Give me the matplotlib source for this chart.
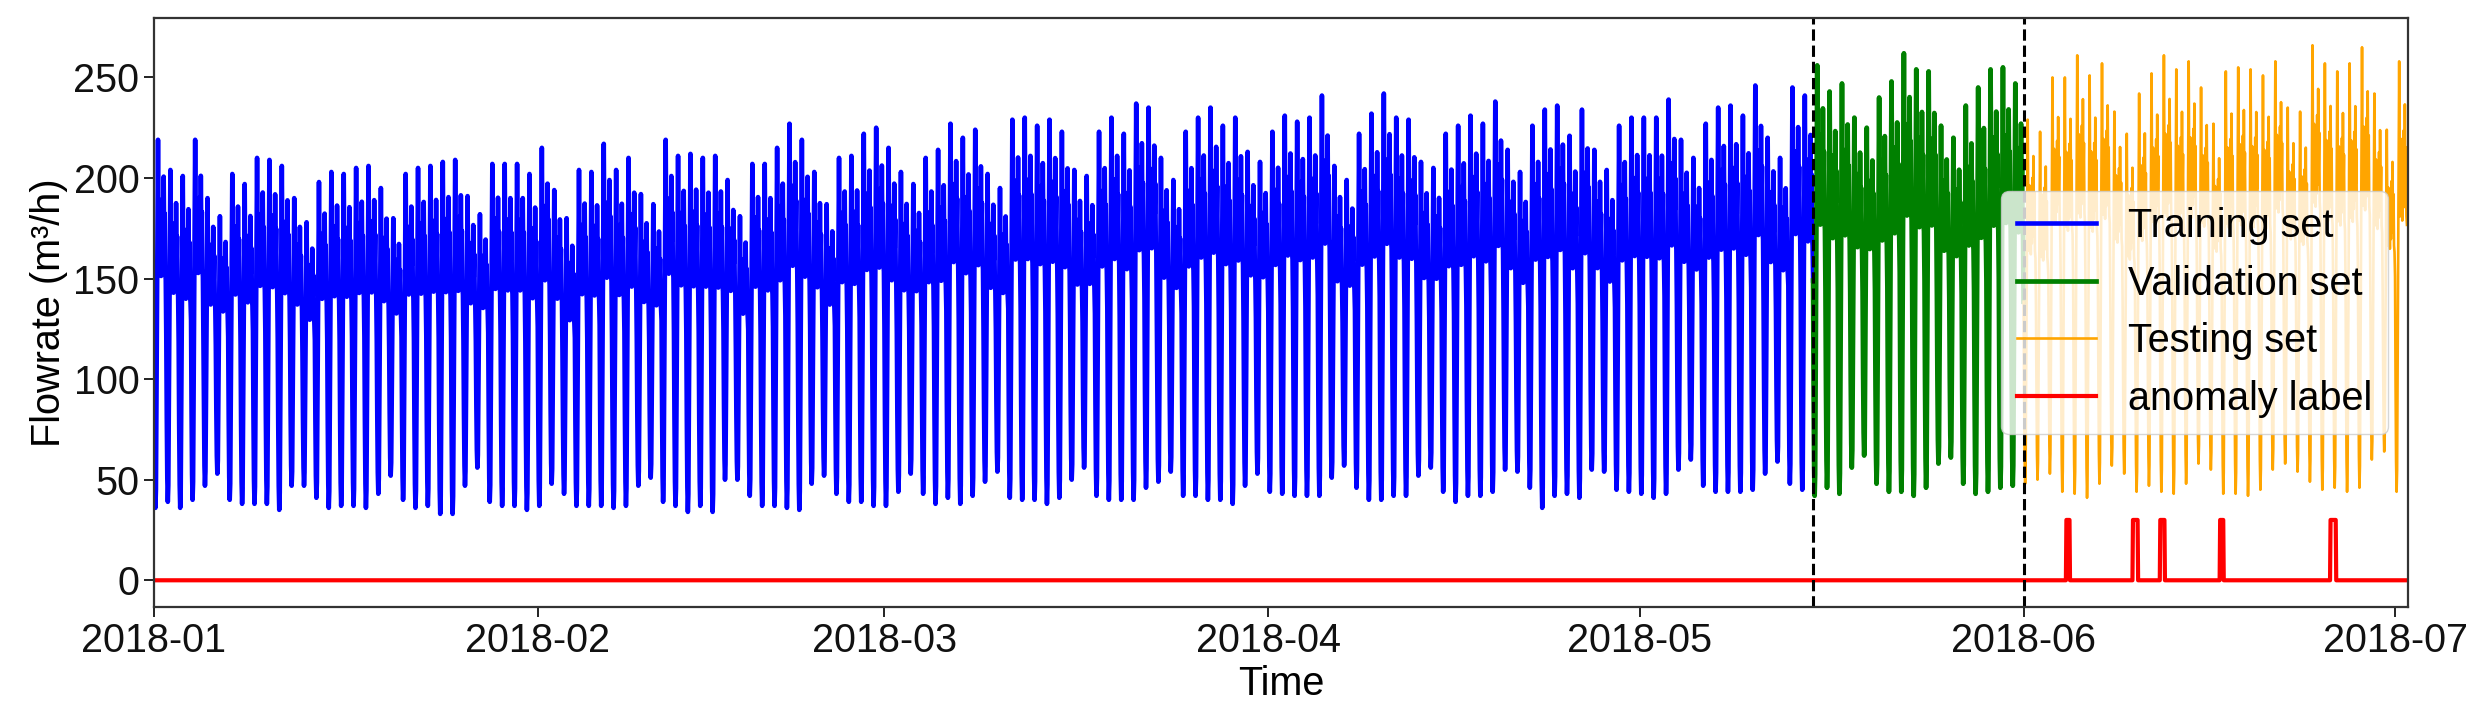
import pandas as pd
import matplotlib
matplotlib.use("Agg")
import matplotlib.pyplot as plt
import matplotlib.dates as mdates

plt.rcParams["font.family"] = ["Liberation Sans", "DejaVu Sans"]

# daily night minimum flow (m3/h), 2018-01-01 .. 2018-07-01
day_low = [
    36, 39, 36, 40, 47, 53, 40, 38, 38, 38, 35, 47, 47, 41, 36, 37, 37, 36, 43, 52,
    40, 36, 37, 33, 33, 47, 56, 39, 37, 37,
    35, 37, 48, 43, 37, 37, 37, 36, 37, 47, 51, 39, 37, 34, 37, 34, 50, 50, 42, 37,
    37, 36, 35, 48, 52, 43, 39, 39, 37, 37, 44,
    53, 43, 38, 41, 38, 42, 49, 54, 41, 40, 40, 38, 41, 50, 56, 42, 40, 40, 40, 46,
    49, 54, 42, 42, 40, 40, 38, 47, 53, 44,
    43, 42, 42, 42, 51, 57, 46, 40, 40, 42, 42, 52, 56, 44, 39, 42, 42, 44, 55, 54,
    46, 36, 42, 43, 41, 55, 54, 45, 44, 43, 41,
    43, 55, 60, 47, 44, 44, 44, 45, 53, 59, 48, 45,
    42, 46, 43, 56, 62, 48, 44, 44, 42, 46, 58, 61, 48, 43, 44, 46, 47,
    48, 50, 53, 44, 43, 41, 48, 57, 53, 44, 47, 44, 43, 48, 58, 55, 43, 43, 42, 45,
    55, 58, 54, 49, 45, 46, 44, 46, 60, 64, 44,
]

# daily peak flow (m3/h)
day_peak = [
    219, 204, 201, 219, 190, 181, 202, 197, 210, 209, 206, 190, 178, 198, 203, 202, 205, 206, 195, 180,
    202, 205, 206, 208, 209, 191, 182, 207, 207, 207,
    202, 215, 194, 180, 204, 203, 217, 204, 210, 192, 187, 219, 211, 212, 210, 211, 199, 181, 207, 207,
    215, 227, 219, 203, 187, 210, 211, 222, 225, 215, 203,
    197, 210, 214, 227, 220, 224, 202, 195, 229, 230, 226, 229, 223, 204, 201, 223, 230, 222, 237, 235,
    210, 199, 223, 230, 235, 226, 230, 213, 208, 223,
    231, 228, 230, 241, 206, 199, 222, 232, 242, 230, 229, 208, 205, 222, 226, 231, 227, 238, 214, 203,
    226, 234, 236, 221, 234, 214, 204, 226, 230, 230, 230,
    239, 219, 210, 227, 235, 236, 231, 246, 220, 210, 245, 241,
    256, 243, 247, 230, 225, 240, 248, 262, 254, 253, 226, 220, 236, 245, 254, 255, 247,
    229, 223, 250, 250, 261, 251, 257, 233, 222, 242, 252, 261, 254, 258, 245, 227, 253, 255, 254, 251,
    258, 235, 233, 266, 257, 253, 257, 265, 242, 224, 258,
]

# typical daily pattern, hours 0..23 (0 = night minimum, 1 = daily peak)
hour_shape = [0.50, 0.25, 0.07, 0.00, 0.05, 0.30, 0.60, 0.78, 1.00, 0.76, 0.64, 0.82,
              0.66, 0.76, 0.63, 0.80, 0.66, 0.84, 0.68, 0.90, 0.72, 0.80, 0.64, 0.62]

val_start = "2018-05-15"
test_start = "2018-06-01"
series_end = "2018-07-02 01:00"

# anomaly label windows
anomaly_windows = [
    ("2018-06-04 11:00", "2018-06-04 17:00"),
    ("2018-06-09 20:00", "2018-06-10 05:00"),
    ("2018-06-12 01:00", "2018-06-12 09:00"),
    ("2018-06-16 21:00", "2018-06-17 03:00"),
    ("2018-06-25 19:00", "2018-06-26 05:00"),
]
anomaly_level = 30

# build hourly series
days = pd.date_range("2018-01-01", periods=len(day_low), freq="D")
times, flow = [], []
for d, lo, hi in zip(days, day_low, day_peak):
    for h, s in enumerate(hour_shape):
        times.append(d + pd.Timedelta(hours=h))
        flow.append(lo + s * (hi - lo))
series = pd.Series(flow, index=pd.DatetimeIndex(times))

t_val = pd.Timestamp(val_start)
t_test = pd.Timestamp(test_start)
train = series.loc[:t_val]
valid = series.loc[t_val:t_test]
test = series.loc[t_test:]

anomaly = pd.Series(0.0, index=series.index)
for s, e in anomaly_windows:
    anomaly.loc[pd.Timestamp(s):pd.Timestamp(e)] = anomaly_level

# plot
fig = plt.figure(figsize=(24.74, 7.15), dpi=100)
ax = fig.add_axes([0.0622, 0.151, 0.9111, 0.824])

ax.plot(train.index, train.values, color="blue", lw=3.3, label="Training set")
ax.plot(valid.index, valid.values, color="green", lw=3.4, label="Validation set")
ax.plot(test.index, test.values, color="orange", lw=1.9, label="Testing set")
ax.plot(anomaly.index, anomaly.values, color="red", lw=3.0, label="anomaly label")

ax.axvline(t_val, color="black", ls="--", lw=2.2)
ax.axvline(t_test, color="black", ls="--", lw=2.2)

ax.set_xlim(pd.Timestamp("2018-01-01"), pd.Timestamp(series_end))
ax.set_ylim(-13.3, 279.6)
ax.set_yticks([0, 50, 100, 150, 200, 250])
ax.xaxis.set_major_locator(mdates.MonthLocator())
ax.xaxis.set_major_formatter(mdates.DateFormatter("%Y-%m"))

ax.tick_params(labelsize=28.5, length=7, width=1.3, colors="#111111")
for sp in ax.spines.values():
    sp.set_color("#333333")
    sp.set_linewidth(1.6)

ax.set_xlabel("Time", fontsize=28.5)
ax.set_ylabel("Flowrate (m\u00b3/h)", fontsize=28.5)

ax.legend(loc="center right", fontsize=28.5)

fig.savefig("out.png", dpi=100)
